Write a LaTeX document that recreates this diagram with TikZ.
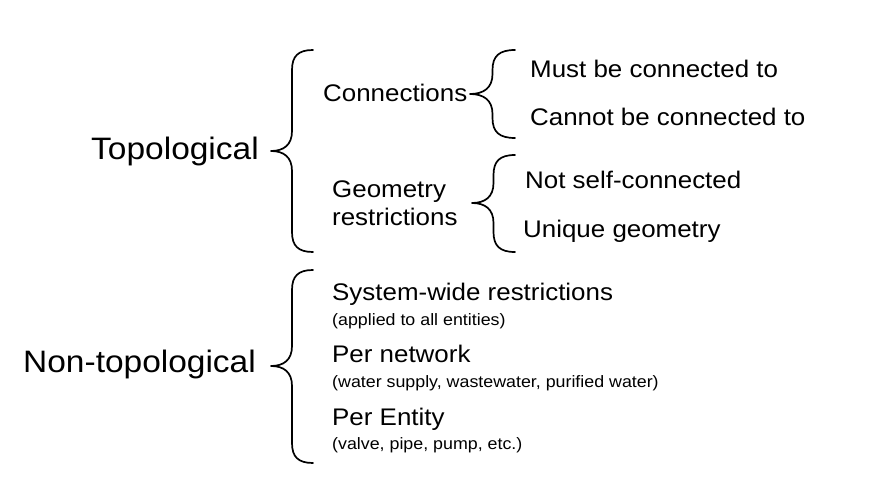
\documentclass[tikz,border=0pt]{standalone}
\usepackage{fontspec}
\setmainfont[FakeStretch=1.08]{Liberation Sans}
\usepackage{tikz}
\usetikzlibrary{positioning}
\tikzstyle{big}=[font=\fontsize{31}{36}\selectfont, inner sep=0pt,
        anchor=base west]
\tikzstyle{mid}=[font=\fontsize{24}{28}\selectfont, inner sep=0pt,
        anchor=base west]
\tikzstyle{sml}=[font=\fontsize{16.5}{19}\selectfont, inner sep=0pt,
        anchor=base west]
\tikzstyle{curlyline}=[line width=1.7pt, line cap=round, line join=round]
% curly brace opening to the right: tip x, tip y, width, top y, bottom y
\newcommand{\curly}[5]{%
    \draw[curlyline] ({#1+#3},#4)
        .. controls ({#1+#3*0.65},#4) and ({#1+#3/2},{#4+6}) .. ({#1+#3/2},{#4+20})
        -- ({#1+#3/2},{#2-20})
        .. controls ({#1+#3/2},{#2-6}) and ({#1+#3*0.3},#2) .. (#1,#2)
        .. controls ({#1+#3*0.3},#2) and ({#1+#3/2},{#2+6}) .. ({#1+#3/2},{#2+20})
        -- ({#1+#3/2},{#5-20})
        .. controls ({#1+#3/2},{#5-6}) and ({#1+#3*0.65},#5) .. ({#1+#3},#5);}
\begin{document}
\begin{tikzpicture}[x=1pt, y=-1pt]
        \useasboundingbox (0,0) rectangle (883,484);

        \node[big] (0) at (91,159) {Topological};
        \node[mid] (1) at (323,102) {Connections};
        \node[mid] (2) at (530,78) {Must be connected to};
        \node[mid] (3) at (530,125) {Cannot be connected to};
        \node[mid] (4) at (332,197) {Geometry};
        \node[mid] (5) at (332,225) {restrictions};
        \node[mid] (6) at (525,188) {Not self-connected};
        \node[mid] (7) at (523,237) {Unique geometry};

        \node[big] (8) at (23,372) {Non-topological};
        \node[mid] (9) at (332,300) {System-wide restrictions};
        \node[sml] (10) at (332,325) {(applied to all entities)};
        \node[mid] (11) at (332,362) {Per network};
        \node[sml] (12) at (332,387)
            {(water supply, wastewater, purified water)};
        \node[mid] (13) at (332,425) {Per Entity};
        \node[sml] (14) at (332,449) {(valve, pipe, pump, etc.)};

        \curly{271}{151}{42}{50}{252}
        \curly{470}{94}{45}{50}{138}
        \curly{472}{203}{43}{155}{252}
        \curly{271}{366}{42}{270}{463}
    \end{tikzpicture}
\end{document}
